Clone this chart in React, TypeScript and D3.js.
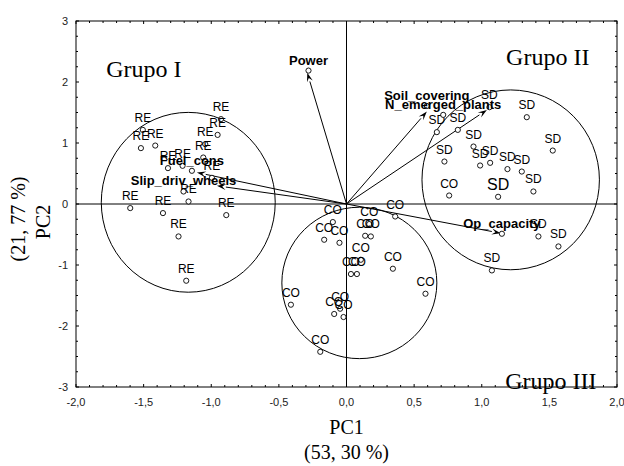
import React, { useEffect, useRef } from 'react'
import * as d3 from 'd3'

const W = 624
const H = 466
const margin = { top: 21, right: 7, bottom: 79, left: 76 }

// PCA scores (PC1, PC2)
const reX = [-0.928, -0.953, -1.506, -1.520, -1.414, -1.044, -1.059, -1.320, -1.212, -0.995, -1.168, -1.599, -1.357, -0.889, -1.242, -1.185]
const reY = [1.391, 1.133, 1.215, 0.916, 0.958, 0.981, 0.762, 0.588, 0.626, 0.429, 0.041, -0.067, -0.149, -0.182, -0.532, -1.258]

const sdX = [1.057, 1.333, 0.668, 0.823, 0.939, 1.525, 0.724, 0.988, 1.062, 1.190, 1.296, 1.382, 1.121, 1.419, 1.567, 1.075]
const sdY = [1.587, 1.423, 1.178, 1.215, 0.942, 0.876, 0.696, 0.631, 0.675, 0.572, 0.532, 0.205, 0.118, -0.532, -0.696, -1.089]
const sdBig = 12 // this one is printed with a bigger label

const coX = [0.759, 0.360, -0.101, 0.168, -0.165, -0.052, 0.180, 0.138, 0.106, 0.033, 0.077, 0.343, 0.584, -0.411, -0.091, -0.022, -0.047, -0.194]
const coY = [0.139, -0.205, -0.296, -0.329, -0.586, -0.636, -0.532, -0.521, -0.914, -1.148, -1.148, -1.061, -1.471, -1.651, -1.803, -1.853, -1.717, -2.423]

// variables (loadings) and where their arrows end
const varNames = ['Power', 'Soil_covering', 'N_emerged_plants', 'Fuel_cons', 'Slip_driv_wheels', 'Op_capacity']
const varX = [-0.281, 0.594, 0.715, -1.143, -1.205, 1.149]
const varY = [2.187, 1.607, 1.461, 0.544, 0.205, -0.488]
const arrowX = [-0.29, 0.594, 1.038, -1.106, -0.958, 1.140]
const arrowY = [2.15, 1.515, 1.543, 0.516, 0.298, -0.478]

// group circles
const groupNames = ['Grupo I', 'Grupo II', 'Grupo III']
const groupCx = [-1.170, 1.214, 0.095]
const groupCy = [0.028, 0.396, -1.294]
const groupRx = [0.643, 0.656, 0.573]
const groupRy = [1.474, 1.474, 1.241]
const groupLabelX = [-1.776, 1.180, 1.173]
const groupLabelY = [2.083, 2.271, -3.027]

const xTicks = [-2, -1.5, -1, -0.5, 0, 0.5, 1, 1.5, 2]
const yTicks = [-3, -2, -1, 0, 1, 2, 3]

const sans = 'Liberation Sans, Arial, sans-serif'
const serif = 'Liberation Serif, Times New Roman, serif'

function Biplot() {
  const ref = useRef<SVGSVGElement>(null)

  useEffect(() => {
    const svg = d3.select(ref.current)
    svg.selectAll('*').remove()

    const x = d3.scaleLinear().domain([-2, 2]).range([margin.left, W - margin.right])
    const y = d3.scaleLinear().domain([-3, 3]).range([H - margin.bottom, margin.top])
    const x0 = x(-2), x1 = x(2), y0 = y(3), y1 = y(-3)

    const g = svg.append('g')

    // frame
    g.append('rect')
      .attr('x', x0).attr('y', y0)
      .attr('width', x1 - x0).attr('height', y1 - y0)
      .attr('fill', 'none').attr('stroke', '#000').attr('stroke-width', 1)

    // minor/major ticks, inside the frame on all four sides
    const xt = d3.range(-20, 21).map(d => d / 10)
    xt.forEach(d => {
      const len = Math.abs(d * 2 - Math.round(d * 2)) < 1e-6 ? 3 : 2
      g.append('line').attr('x1', x(d)).attr('x2', x(d)).attr('y1', y1).attr('y2', y1 - len).attr('stroke', '#000')
      g.append('line').attr('x1', x(d)).attr('x2', x(d)).attr('y1', y0).attr('y2', y0 + len).attr('stroke', '#000')
    })
    const yt = d3.range(-12, 13).map(d => d / 4)
    yt.forEach(d => {
      const len = Number.isInteger(d) ? 3 : 2
      g.append('line').attr('y1', y(d)).attr('y2', y(d)).attr('x1', x0).attr('x2', x0 + len).attr('stroke', '#000')
      g.append('line').attr('y1', y(d)).attr('y2', y(d)).attr('x1', x1).attr('x2', x1 - len).attr('stroke', '#000')
    })

    // tick labels
    g.selectAll('.xl').data(xTicks).enter().append('text')
      .attr('x', d => x(d)).attr('y', y1 + 19)
      .attr('text-anchor', 'middle')
      .attr('font-family', sans).attr('font-size', 11).attr('fill', '#222')
      .text(d => d.toFixed(1).replace('.', ','))
    g.selectAll('.yl').data(yTicks).enter().append('text')
      .attr('x', x0 - 8).attr('y', d => y(d) + 4)
      .attr('text-anchor', 'end')
      .attr('font-family', sans).attr('font-size', 11).attr('fill', '#222')
      .text(d => String(d))

    // zero lines
    g.append('line').attr('x1', x(0)).attr('x2', x(0)).attr('y1', y0).attr('y2', y1).attr('stroke', '#000')
    g.append('line').attr('x1', x0).attr('x2', x1).attr('y1', y(0)).attr('y2', y(0)).attr('stroke', '#000')

    // group circles
    groupNames.forEach((n, i) => {
      g.append('ellipse')
        .attr('cx', x(groupCx[i])).attr('cy', y(groupCy[i]))
        .attr('rx', x(groupRx[i]) - x(0)).attr('ry', y(0) - y(groupRy[i]))
        .attr('fill', 'none').attr('stroke', '#000').attr('stroke-width', 1)
      g.append('text')
        .attr('x', x(groupLabelX[i])).attr('y', y(groupLabelY[i]))
        .attr('font-family', serif).attr('font-size', 24)
        .text(n)
    })

    // arrows from origin
    const ox = x(0), oy = y(0)
    arrowX.forEach((ax, i) => {
      const tx = x(ax), ty = y(arrowY[i])
      const ang = Math.atan2(ty - oy, tx - ox)
      const L = 9, hw = 3
      const bx = tx - L * Math.cos(ang), by = ty - L * Math.sin(ang)
      g.append('line').attr('x1', ox).attr('y1', oy).attr('x2', bx).attr('y2', by)
        .attr('stroke', '#000').attr('stroke-width', 1)
      const p = d3.path()
      p.moveTo(tx, ty)
      p.lineTo(bx + hw * Math.sin(ang), by - hw * Math.cos(ang))
      p.lineTo(tx - 0.6 * L * Math.cos(ang), ty - 0.6 * L * Math.sin(ang))
      p.lineTo(bx - hw * Math.sin(ang), by + hw * Math.cos(ang))
      p.closePath()
      g.append('path').attr('d', p.toString()).attr('fill', '#000')
    })

    // points + labels
    const drawGroup = (xs: number[], ys: number[], lab: string, big = -1) => {
      xs.forEach((v, i) => {
        g.append('circle').attr('cx', x(v)).attr('cy', y(ys[i])).attr('r', 2.6)
          .attr('fill', '#fff').attr('stroke', '#000').attr('stroke-width', 0.9)
      })
      xs.forEach((v, i) => {
        const fs = i === big ? 16 : 12
        g.append('text').attr('x', x(v)).attr('y', y(ys[i]) - (i === big ? 7 : 8))
          .attr('text-anchor', 'middle').attr('font-family', sans).attr('font-size', fs)
          .attr('fill', '#000')
          .text(lab)
      })
    }
    drawGroup(reX, reY, 'RE')
    drawGroup(sdX, sdY, 'SD', sdBig)
    drawGroup(coX, coY, 'CO')

    // variable markers and bold names
    varNames.forEach((n, i) => {
      g.append('circle').attr('cx', x(varX[i])).attr('cy', y(varY[i])).attr('r', 2.6)
        .attr('fill', '#fff').attr('stroke', '#000').attr('stroke-width', 0.9)
      g.append('text').attr('x', x(varX[i])).attr('y', y(varY[i]) - 6)
        .attr('text-anchor', 'middle').attr('font-family', sans).attr('font-size', 13)
        .attr('font-weight', 'bold')
        .text(n)
    })

    // axis titles
    g.append('text').attr('x', x(0)).attr('y', 434)
      .attr('text-anchor', 'middle').attr('font-family', serif).attr('font-size', 20)
      .text('PC1')
    g.append('text').attr('x', x(0)).attr('y', 459)
      .attr('text-anchor', 'middle').attr('font-family', serif).attr('font-size', 20)
      .text('(53, 30 %)')
    g.append('text').attr('transform', 'translate(50,222) rotate(-90)')
      .attr('text-anchor', 'middle').attr('font-family', serif).attr('font-size', 20)
      .text('PC2')
    g.append('text').attr('transform', 'translate(25,219) rotate(-90)')
      .attr('text-anchor', 'middle').attr('font-family', serif).attr('font-size', 20)
      .text('(21, 77 %)')
  }, [])

  return <svg ref={ref} width={W} height={H} style={{ position: 'absolute', left: 0, top: 0, background: '#fff' }} />
}

export default function App() {
  return <Biplot />
}
